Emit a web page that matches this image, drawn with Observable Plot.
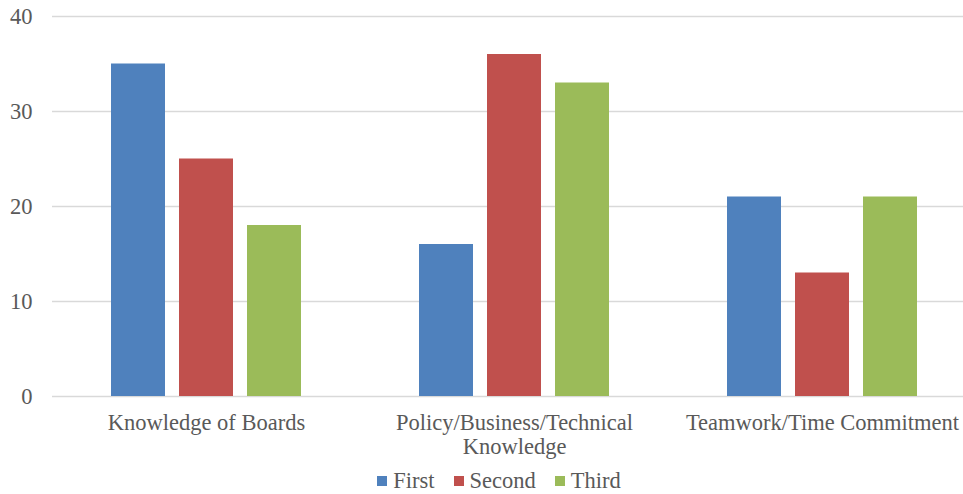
<!DOCTYPE html>
<html>
<head>
<meta charset="utf-8">
<script src="https://cdn.jsdelivr.net/npm/d3@7"></script>
<script src="https://cdn.jsdelivr.net/npm/@observablehq/plot@0.6"></script>
<style>
  html, body { margin: 0; padding: 0; background: #fff; overflow: hidden; }
  #chart { width: 963px; overflow: hidden; }
  #chart svg { max-width: none !important; display: block; }
  .legend { display: flex; justify-content: center; align-items: center; height: 26px; width: 998px; padding-top: 8px;
    font-family: "Liberation Serif", "Times New Roman", serif; font-size: 22.5px; color: #595959; }
  .legend span.item { display: inline-flex; align-items: center; margin: 0 9.5px; }
  .legend span.sw { display: inline-block; width: 10px; height: 10px; margin-right: 6px; }
</style>
</head>
<body>
<div id="chart"></div>
<script>
const categories = ["Knowledge of Boards", "Policy/Business/Technical\nKnowledge", "Teamwork/Time Commitment"];
const series = ["First", "Second", "Third"];
const colors = ["#4F81BD", "#C0504D", "#9BBB59"];
const firstValues = [35, 16, 21];
const secondValues = [25, 36, 13];
const thirdValues = [18, 33, 21];
const yTicks = [0, 10, 20, 30, 40];

const valuesBySeries = [firstValues, secondValues, thirdValues];
const data = [];
categories.forEach((c, i) => series.forEach((s, j) => data.push({category: c, series: s, value: valuesBySeries[j][i]})));

const chart = Plot.plot({
  width: 976,
  height: 460,
  marginLeft: 52,
  marginRight: 0,
  marginTop: 16,
  marginBottom: 64,
  style: {fontFamily: "'Liberation Serif', 'Times New Roman', serif", fontSize: "22.5px", color: "#595959", background: "#fff", maxWidth: "none"},
  fx: {domain: categories, padding: 0, label: null},
  x: {domain: series, paddingInner: 0.21, paddingOuter: 0.86, axis: null},
  y: {domain: [0, 40], label: null},
  color: {domain: series, range: colors},
  marks: [
    Plot.gridY(yTicks, {stroke: "#d9d9d9", strokeOpacity: 1, strokeWidth: 1.3}),
    Plot.axisY(yTicks, {tickSize: 0, tickPadding: 20, label: null, fontSize: 22.5}),
    Plot.axisFx({anchor: "bottom", tickSize: 0, tickPadding: 16, label: null, lineHeight: 1.07, fontSize: 22.5}),
    Plot.barY(data, {fx: "category", x: "series", y: "value", fill: "series"})
  ]
});
document.getElementById("chart").appendChild(chart);

const legend = document.createElement("div");
legend.className = "legend";
series.forEach((s, i) => {
  const item = document.createElement("span");
  item.className = "item";
  const sw = document.createElement("span");
  sw.className = "sw";
  sw.style.background = colors[i];
  item.appendChild(sw);
  item.appendChild(document.createTextNode(s));
  legend.appendChild(item);
});
document.getElementById("chart").appendChild(legend);
</script>
</body>
</html>
